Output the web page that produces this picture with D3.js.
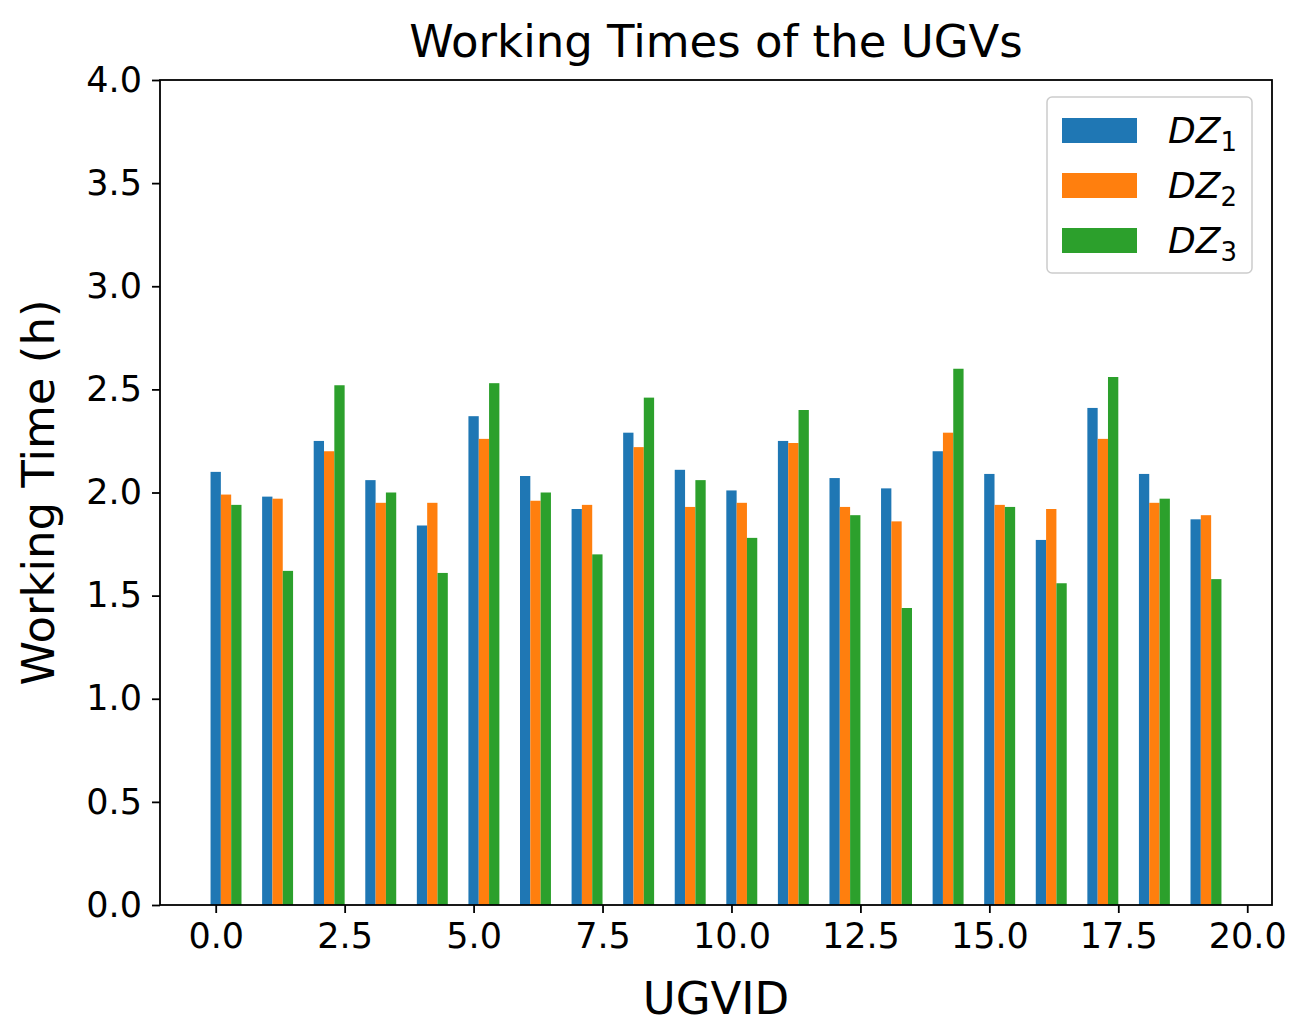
<!DOCTYPE html>
<html><head><meta charset="utf-8">
<script src="https://cdn.jsdelivr.net/npm/d3@7"></script>
<style>body{margin:0;background:#fff}svg{font-family:"DejaVu Sans",sans-serif}</style>
</head><body><svg id="c" width="1306" height="1033"></svg>
<script>
const ids = d3.range(20);
const dz1 = [2.10,1.98,2.25,2.06,1.84,2.37,2.08,1.92,2.29,2.11,2.01,2.25,2.07,2.02,2.20,2.09,1.77,2.41,2.09,1.87];
const dz2 = [1.99,1.97,2.20,1.95,1.95,2.26,1.96,1.94,2.22,1.93,1.95,2.24,1.93,1.86,2.29,1.94,1.92,2.26,1.95,1.89];
const dz3 = [1.94,1.62,2.52,2.00,1.61,2.53,2.00,1.70,2.46,2.06,1.78,2.40,1.89,1.44,2.60,1.93,1.56,2.56,1.97,1.58];
const seriesNames = ["1","2","3"];
const colors = ["#1f77b4","#ff7f0e","#2ca02c"];
const xTicks = [0,2.5,5,7.5,10,12.5,15,17.5,20];
const yTicks = [0,0.5,1,1.5,2,2.5,3,3.5,4];
const series=[dz1,dz2,dz3];
const L=160,R=1272,T=80,B=905, bw=0.2;
const svg=d3.select("#c");
const x=d3.scaleLinear().domain([-1.08,20.48]).range([L,R]);
const y=d3.scaleLinear().domain([0,4]).range([B,T]);
series.forEach((s,k)=>{
  svg.append("g").selectAll("rect").data(s).join("rect")
   .attr("x",(d,i)=>x(ids[i]+k*bw-bw/2)).attr("width",x(bw)-x(0))
   .attr("y",d=>y(d)).attr("height",d=>y(0)-y(d)).attr("fill",colors[k]);
});
const xa=svg.append("g").attr("transform",`translate(0,${B})`).call(d3.axisBottom(x).tickValues(xTicks).tickFormat(d3.format(".1f")).tickSizeOuter(0).tickSize(8).tickPadding(10));
const ya=svg.append("g").attr("transform",`translate(${L},0)`).call(d3.axisLeft(y).tickValues(yTicks).tickFormat(d3.format(".1f")).tickSizeOuter(0).tickSize(8).tickPadding(10));
[xa,ya].forEach(a=>{a.selectAll("text").attr("font-size",35).attr("fill","#000").attr("font-family","DejaVu Sans");a.selectAll("line").attr("stroke-width",1.8);a.select(".domain").remove();});
svg.append("rect").attr("x",L).attr("y",T).attr("width",R-L).attr("height",B-T).attr("fill","none").attr("stroke","#000").attr("stroke-width",1.8);
svg.append("text").attr("x",(L+R)/2).attr("y",57).attr("text-anchor","middle").attr("font-size",45).text("Working Times of the UGVs");
svg.append("text").attr("x",(L+R)/2).attr("y",1014).attr("text-anchor","middle").attr("font-size",45).text("UGVID");
svg.append("text").attr("transform",`translate(54,${(T+B)/2}) rotate(-90)`).attr("text-anchor","middle").attr("font-size",45).text("Working Time (h)");
const lg=svg.append("g");
lg.append("rect").attr("x",1047).attr("y",97).attr("width",205).attr("height",176).attr("rx",5).attr("fill","#fff").attr("fill-opacity",0.8).attr("stroke","#ccc").attr("stroke-width",1.5);
seriesNames.forEach((n,k)=>{
  const cy=130+k*55;
  lg.append("rect").attr("x",1062).attr("y",cy-12).attr("width",75).attr("height",25).attr("fill",colors[k]);
  const t=lg.append("text").attr("x",1168).attr("y",cy+13).attr("font-size",36);
  t.append("tspan").attr("font-style","italic").text("DZ");
  t.append("tspan").attr("font-size",26).attr("dy",8).text(n);
});
</script></body></html>
